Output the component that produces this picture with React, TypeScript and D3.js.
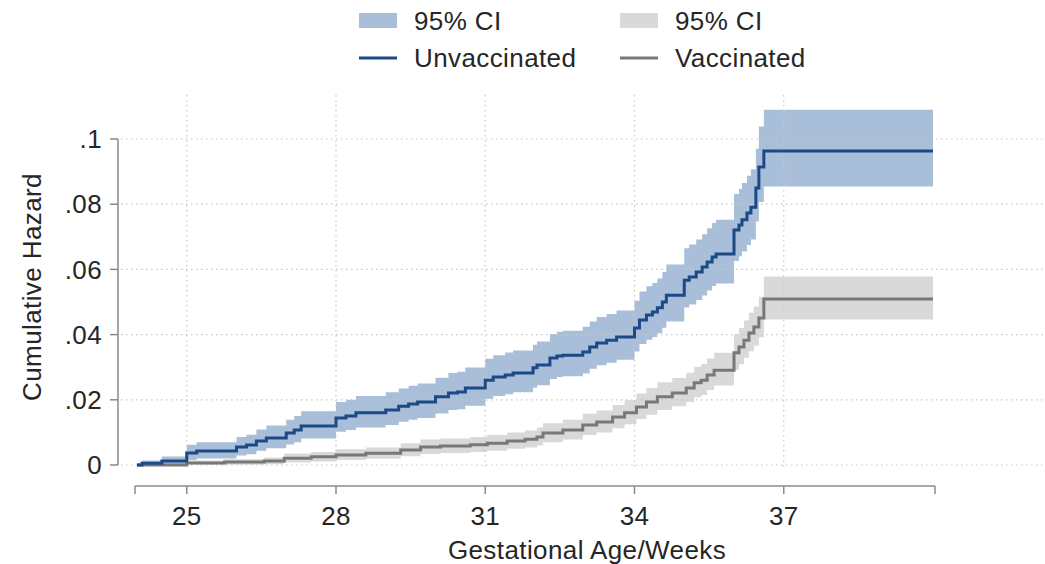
import React from "react";
import * as d3 from "d3";

// ---- Data ----
const unvacWeeks = [24.0, 24.1, 24.5, 25.0, 25.2, 26.0, 26.2, 26.4, 26.6, 27.0, 27.16, 27.3, 28.0, 28.2, 28.4, 29.0, 29.26, 29.46, 29.64, 30.0, 30.26, 30.44, 30.6, 31.0, 31.16, 31.4, 31.56, 31.96, 32.04, 32.3, 32.44, 32.56, 32.96, 33.1, 33.24, 33.44, 33.64, 34.0, 34.1, 34.24, 34.36, 34.46, 34.56, 34.64, 35.0, 35.1, 35.24, 35.36, 35.46, 35.56, 35.64, 36.0, 36.1, 36.16, 36.26, 36.34, 36.44, 36.5, 36.6, 40.0];
const unvacHazard = [0, 0.0005, 0.0012, 0.0037, 0.0043, 0.0055, 0.0061, 0.0074, 0.0083, 0.0098, 0.0107, 0.012, 0.0144, 0.015, 0.016, 0.0169, 0.018, 0.0187, 0.0193, 0.0209, 0.0221, 0.0224, 0.0236, 0.026, 0.027, 0.0276, 0.0282, 0.0298, 0.0307, 0.0328, 0.0334, 0.0337, 0.0347, 0.0362, 0.0374, 0.0383, 0.0393, 0.042, 0.0445, 0.046, 0.0469, 0.0482, 0.05, 0.0521, 0.0567, 0.0577, 0.0592, 0.0607, 0.0623, 0.0638, 0.0647, 0.0721, 0.0736, 0.0752, 0.0773, 0.0791, 0.085, 0.0914, 0.0963, 0.0963];
const unvacLower = [0, 0.0001, 0.0002, 0.0015, 0.002, 0.0029, 0.0033, 0.0044, 0.0051, 0.0063, 0.007, 0.0081, 0.0102, 0.0107, 0.0115, 0.0123, 0.0133, 0.0139, 0.0144, 0.0158, 0.0169, 0.0171, 0.0182, 0.0203, 0.0212, 0.0217, 0.0223, 0.0237, 0.0245, 0.0264, 0.027, 0.0272, 0.0281, 0.0295, 0.0306, 0.0314, 0.0323, 0.0348, 0.0371, 0.0384, 0.0393, 0.0404, 0.0421, 0.044, 0.0483, 0.0492, 0.0506, 0.052, 0.0535, 0.0549, 0.0557, 0.0626, 0.064, 0.0655, 0.0675, 0.0692, 0.0747, 0.0807, 0.0854, 0.0854];
const unvacUpper = [0, 0.0014, 0.0026, 0.0062, 0.007, 0.0086, 0.0093, 0.0109, 0.0121, 0.0139, 0.015, 0.0165, 0.0193, 0.02, 0.0212, 0.0223, 0.0235, 0.0243, 0.025, 0.0268, 0.0282, 0.0286, 0.0299, 0.0326, 0.0337, 0.0345, 0.0351, 0.0369, 0.0379, 0.0402, 0.0409, 0.0412, 0.0424, 0.044, 0.0454, 0.0463, 0.0474, 0.0504, 0.0532, 0.0548, 0.0558, 0.0572, 0.0592, 0.0615, 0.0665, 0.0676, 0.0692, 0.0708, 0.0726, 0.0742, 0.0752, 0.0831, 0.0847, 0.0865, 0.0887, 0.0907, 0.097, 0.1038, 0.109, 0.109];

const vacWeeks = [24.0, 25.0, 25.76, 26.56, 26.96, 27.5, 28.0, 28.6, 29.3, 29.7, 30.1, 30.7, 31.04, 31.44, 31.8, 32.04, 32.16, 32.56, 32.96, 33.24, 33.56, 33.8, 34.04, 34.24, 34.46, 34.76, 35.04, 35.2, 35.34, 35.46, 35.6, 36.0, 36.1, 36.2, 36.3, 36.4, 36.5, 36.6, 40.0];
const vacHazard = [0, 0.0006, 0.0009, 0.0012, 0.0021, 0.0025, 0.0031, 0.0036, 0.0046, 0.0055, 0.0058, 0.0062, 0.0067, 0.0074, 0.0079, 0.0086, 0.0098, 0.0107, 0.0123, 0.0132, 0.0147, 0.016, 0.0178, 0.0193, 0.0209, 0.0221, 0.0236, 0.0252, 0.026, 0.0276, 0.0291, 0.0344, 0.0362, 0.0383, 0.0405, 0.0423, 0.0451, 0.0509, 0.0509];
const vacLower = [0, 0.0001, 0.0001, 0.0002, 0.0008, 0.0011, 0.0015, 0.0019, 0.0027, 0.0034, 0.0037, 0.004, 0.0044, 0.005, 0.0054, 0.006, 0.007, 0.0078, 0.0092, 0.01, 0.0113, 0.0125, 0.0141, 0.0154, 0.0169, 0.018, 0.0193, 0.0208, 0.0215, 0.023, 0.0244, 0.0292, 0.0309, 0.0329, 0.0349, 0.0366, 0.0392, 0.0446, 0.0446];
const vacUpper = [0, 0.0014, 0.0018, 0.0023, 0.0035, 0.004, 0.0048, 0.0054, 0.0067, 0.0078, 0.0081, 0.0086, 0.0092, 0.01, 0.0106, 0.0115, 0.0128, 0.0139, 0.0157, 0.0167, 0.0184, 0.0199, 0.0219, 0.0236, 0.0254, 0.0267, 0.0283, 0.0301, 0.031, 0.0327, 0.0344, 0.0401, 0.042, 0.0443, 0.0467, 0.0486, 0.0516, 0.0578, 0.0578];

const xTicks = [25, 28, 31, 34, 37];
const yTicks = [0, 0.02, 0.04, 0.06, 0.08, 0.1];
const yTickLabels = ["0", ".02", ".04", ".06", ".08", ".1"];

const xTitle = "Gestational Age/Weeks";
const yTitle = "Cumulative Hazard";
const legendCI = "95% CI";
const legendUnvac = "Unvaccinated";
const legendVac = "Vaccinated";

// ---- Styles ----
const BLUE = "#1b4a86";
const BLUE_CI = "#a9bfd9";
const GRAY = "#787878";
const GRAY_CI = "#d9d9d9";
const TEXT = "#262626";
const AXIS = "#8a8a8a";
const GRID = "#c8c8c8";
const FONT = "'Liberation Sans', Arial, sans-serif";
const FS = 26;
const LS = 0.4;

type Pt = { w: number; h: number; lo: number; hi: number };

function zipSeries(w: number[], h: number[], lo: number[], hi: number[]): Pt[] {
  return w.map((wk, i) => ({ w: wk, h: h[i], lo: lo[i], hi: hi[i] }));
}

export default function App() {
  const W = 1045;
  const H = 564;
  const x = d3.scaleLinear().domain([24, 40]).range([137, 933]);
  const y = d3.scaleLinear().domain([0, 0.1]).range([465, 139]);

  const unvac = zipSeries(unvacWeeks, unvacHazard, unvacLower, unvacUpper);
  const vac = zipSeries(vacWeeks, vacHazard, vacLower, vacUpper);

  const area = d3
    .area<Pt>()
    .x((d) => x(d.w))
    .y0((d) => y(d.lo))
    .y1((d) => y(d.hi))
    .curve(d3.curveStepAfter);
  const line = d3
    .line<Pt>()
    .x((d) => x(d.w))
    .y((d) => y(d.h))
    .curve(d3.curveStepAfter);

  const axisY = 486;
  const yAxisX = 118;

  return (
    <svg
      width={W}
      height={H}
      style={{ position: "absolute", left: 0, top: 0, background: "#fff" }}
      fontFamily={FONT}
    >
      <rect x={0} y={0} width={W} height={H} fill="#fff" />

      {/* Legend */}
      <g fontSize={FS} fill={TEXT} letterSpacing={LS}>
        <rect x={359} y={13} width={38} height={15} fill={BLUE_CI} />
        <text x={414} y={30}>{legendCI}</text>
        <rect x={620} y={13} width={38} height={15} fill={GRAY_CI} />
        <text x={675} y={30}>{legendCI}</text>
        <line x1={359} x2={397} y1={58} y2={58} stroke={BLUE} strokeWidth={3} />
        <text x={414} y={67}>{legendUnvac}</text>
        <line x1={620} x2={658} y1={58} y2={58} stroke={GRAY} strokeWidth={3} />
        <text x={675} y={67}>{legendVac}</text>
      </g>

      {/* CI bands */}
      <path d={area(unvac) ?? ""} fill={BLUE_CI} />
      <path d={area(vac) ?? ""} fill={GRAY_CI} />

      {/* Grid */}
      {yTicks.map((t) => (
        <line
          key={"gy" + t}
          x1={yAxisX + 3}
          x2={W}
          y1={y(t)}
          y2={y(t)}
          stroke={GRID}
          strokeWidth={1.2}
          strokeDasharray="1.5 3.5"
        />
      ))}
      {xTicks.map((t) => (
        <line
          key={"gx" + t}
          x1={x(t)}
          x2={x(t)}
          y1={95}
          y2={468}
          stroke={GRID}
          strokeWidth={1.2}
          strokeDasharray="1.5 3.5"
        />
      ))}

      {/* Lines */}
      <path d={line(vac) ?? ""} fill="none" stroke={GRAY} strokeWidth={3} />
      <path d={line(unvac) ?? ""} fill="none" stroke={BLUE} strokeWidth={3} />

      {/* Y axis */}
      <line x1={yAxisX} x2={yAxisX} y1={y(0.1)} y2={y(0)} stroke={AXIS} strokeWidth={1.5} />
      {yTicks.map((t, i) => (
        <g key={"yt" + t}>
          <line x1={yAxisX - 8} x2={yAxisX} y1={y(t)} y2={y(t)} stroke={AXIS} strokeWidth={1.5} />
          <text
            x={yAxisX - 16}
            y={y(t)}
            dy="0.35em"
            textAnchor="end"
            fontSize={FS}
            letterSpacing={LS}
            fill={TEXT}
          >
            {yTickLabels[i]}
          </text>
        </g>
      ))}
      <text
        x={41}
        y={287}
        transform="rotate(-90, 41, 287)"
        textAnchor="middle"
        fontSize={FS}
        letterSpacing={LS}
        fill={TEXT}
      >
        {yTitle}
      </text>

      {/* X axis */}
      <line x1={135} x2={935} y1={axisY} y2={axisY} stroke={AXIS} strokeWidth={1.5} />
      <line x1={135} x2={135} y1={axisY} y2={axisY + 8} stroke={AXIS} strokeWidth={1.5} />
      <line x1={935} x2={935} y1={axisY} y2={axisY + 8} stroke={AXIS} strokeWidth={1.5} />
      {xTicks.map((t) => (
        <g key={"xt" + t}>
          <line x1={x(t)} x2={x(t)} y1={axisY} y2={axisY + 8} stroke={AXIS} strokeWidth={1.5} />
          <text x={x(t)} y={525} textAnchor="middle" fontSize={FS} letterSpacing={LS} fill={TEXT}>
            {t}
          </text>
        </g>
      ))}
      <text x={587} y={559} textAnchor="middle" fontSize={FS} letterSpacing={LS} fill={TEXT}>
        {xTitle}
      </text>
    </svg>
  );
}
